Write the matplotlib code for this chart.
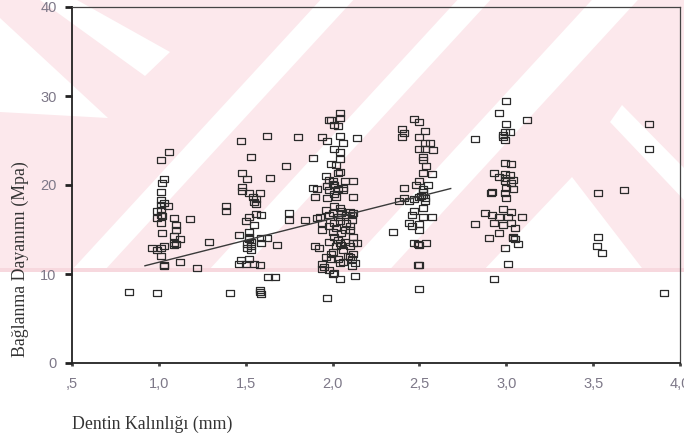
import matplotlib
matplotlib.use("Agg")
import matplotlib.pyplot as plt
import numpy as np

# measured points, grouped by thickness column (mm, MPa)
grp_10 = [(1.06, 23.7), (1.01, 22.8), (1.03, 20.7), (1.02, 20.2), (1.01, 19.2), (1.01, 18.3),
          (1.03, 18.0), (1.05, 17.6), (1.01, 17.7), (0.99, 17.1), (1.01, 17.2), (1.02, 16.5),
          (1.01, 16.6), (0.99, 16.3), (1.01, 15.7), (1.09, 16.3), (1.10, 15.5), (1.10, 15.0),
          (1.09, 14.3), (1.10, 13.4), (1.12, 13.9), (1.09, 13.5), (1.09, 13.3), (1.02, 14.6),
          (1.03, 13.1), (1.01, 12.9), (0.96, 12.9), (0.99, 12.7), (1.01, 12.0), (1.03, 11.0),
          (1.03, 10.9), (1.12, 11.3), (1.18, 16.2), (1.29, 13.6), (1.22, 10.7), (0.83, 8.0),
          (0.99, 7.9)]
grp_15 = [(1.47, 24.9), (1.53, 23.2), (1.48, 21.4), (1.51, 20.7), (1.48, 19.8), (1.48, 19.3),
          (1.52, 19.1), (1.54, 18.7), (1.56, 18.4), (1.58, 19.1), (1.55, 18.1), (1.56, 17.9),
          (1.385, 17.6), (1.385, 17.1), (1.56, 16.7), (1.59, 16.6), (1.50, 16.0), (1.52, 16.4),
          (1.55, 15.5), (1.52, 14.75), (1.46, 14.4), (1.52, 14.2), (1.52, 13.9), (1.53, 13.6),
          (1.51, 13.4), (1.53, 13.2), (1.51, 12.9), (1.53, 12.7), (1.59, 14.0), (1.62, 14.1),
          (1.59, 13.5), (1.68, 13.3), (1.47, 11.6), (1.46, 11.1), (1.52, 11.65), (1.55, 11.1),
          (1.58, 11.05), (1.50, 11.1), (1.63, 9.7), (1.67, 9.7), (1.41, 7.9), (1.58, 8.2),
          (1.59, 7.7), (1.58, 8.0), (1.62, 25.5), (1.80, 25.4), (1.73, 22.1), (1.64, 20.8),
          (1.885, 23.0), (1.75, 16.8), (1.75, 16.1), (1.84, 16.1), (1.89, 19.7), (1.91, 19.6),
          (1.90, 18.7)]
grp_20 = [(2.04, 28.05), (1.98, 27.3), (1.99, 27.3), (2.04, 27.5), (2.01, 26.7), (2.03, 26.6),
          (1.94, 25.4), (1.97, 24.9), (2.04, 25.5), (2.06, 24.7), (2.14, 25.3), (2.01, 24.0),
          (2.04, 23.7), (2.04, 22.9), (1.99, 22.4), (2.02, 22.2), (2.04, 21.5), (2.03, 21.4),
          (1.96, 21.0), (1.98, 20.6), (2.00, 20.4), (1.97, 19.9), (2.12, 20.4), (2.06, 19.7),
          (1.98, 19.4), (2.03, 19.5), (2.06, 19.4), (1.97, 18.5), (2.02, 18.7), (2.12, 18.7),
          (2.01, 17.6), (2.04, 17.4), (1.96, 17.2), (2.10, 17.0), (2.11, 16.6), (1.98, 16.6),
          (1.93, 16.4), (1.91, 16.3), (2.03, 16.4), (2.04, 16.0), (2.01, 15.7), (2.08, 15.7),
          (2.10, 15.4), (1.98, 15.4), (1.94, 15.7), (1.94, 14.9), (2.00, 14.75), (2.05, 14.6),
          (2.10, 14.9), (2.12, 14.2), (2.01, 14.2), (2.03, 13.8), (2.07, 13.6), (2.12, 13.5),
          (2.14, 13.45), (1.98, 13.6), (1.90, 13.1), (1.92, 12.9), (2.02, 13.1), (2.06, 12.7),
          (2.00, 12.5), (2.09, 12.0), (2.11, 11.65), (1.99, 11.65), (2.03, 11.65), (2.13, 11.2),
          (2.04, 11.2), (1.94, 11.1), (1.94, 10.6), (1.98, 10.4), (2.01, 10.15), (2.13, 9.8),
          (2.04, 9.4), (1.97, 7.3), (2.04, 13.5), (2.05, 13.3), (2.08, 16.6), (2.05, 16.9),
          (2.10, 13.2), (2.02, 15.2), (2.05, 17.1), (2.07, 15.0), (1.96, 11.9), (1.99, 12.2),
          (2.06, 11.3), (2.11, 10.9), (2.00, 16.9), (2.07, 20.4), (2.01, 19.0), (2.00, 20.1),
          (2.01, 20.0), (2.12, 16.8), (2.11, 16.1), (2.12, 12.3), (2.10, 11.9), (1.95, 10.8),
          (2.00, 10.0), (2.35, 14.75)]
grp_25 = [(2.47, 27.4), (2.50, 27.1), (2.40, 26.3), (2.41, 25.8), (2.40, 25.4), (2.53, 26.1),
          (2.50, 25.4), (2.53, 24.75), (2.56, 24.75), (2.50, 24.0), (2.53, 24.1), (2.58, 23.9),
          (2.52, 23.1), (2.52, 22.8), (2.54, 22.1), (2.52, 21.4), (2.57, 21.2), (2.50, 20.5),
          (2.55, 20.0), (2.48, 20.0), (2.41, 19.7), (2.52, 19.6), (2.52, 19.25), (2.52, 18.9),
          (2.50, 18.7), (2.53, 18.5), (2.53, 18.2), (2.41, 18.5), (2.38, 18.2), (2.44, 18.2),
          (2.47, 18.4), (2.52, 17.4), (2.47, 17.1), (2.46, 16.6), (2.52, 16.4), (2.57, 16.4),
          (2.44, 15.7), (2.46, 15.4), (2.50, 15.6), (2.50, 14.9), (2.47, 13.45), (2.50, 13.3),
          (2.54, 13.45), (2.50, 11.0), (2.50, 8.3), (2.49, 13.4), (2.51, 18.8), (2.49, 11.0)]
grp_30 = [(3.00, 29.4), (2.96, 28.1), (3.12, 27.3), (3.00, 26.9), (2.99, 26.0), (3.02, 26.0),
          (2.98, 25.6), (2.98, 25.4), (2.99, 25.1), (2.82, 25.2), (2.99, 22.5), (3.03, 22.4),
          (2.93, 21.4), (2.99, 21.2), (3.02, 21.1), (3.04, 20.6), (2.96, 20.9), (2.99, 20.4),
          (3.03, 20.2), (3.00, 19.7), (3.04, 19.5), (2.92, 19.25), (2.91, 19.1), (2.99, 19.1),
          (3.00, 18.5), (2.98, 17.3), (3.03, 17.0), (2.88, 16.9), (2.92, 16.6), (2.96, 16.4),
          (3.01, 16.4), (3.09, 16.4), (2.93, 15.7), (2.98, 15.5), (3.03, 15.7), (3.05, 15.2),
          (2.82, 15.6), (2.96, 14.6), (2.90, 14.1), (3.04, 14.2), (3.05, 13.9), (3.07, 13.4),
          (2.99, 12.9), (3.01, 11.1), (2.93, 9.4), (3.04, 14.0), (2.99, 20.8)]
grp_35 = [(3.53, 19.1), (3.68, 19.4), (3.53, 14.2), (3.52, 13.2), (3.55, 12.4),
          (3.82, 26.9), (3.82, 24.1), (3.91, 7.9)]

# fit line (as drawn in the original)
fit_slope = 4.93
fit_intercept = 6.39
fit_range = [0.92, 2.68]

x_ticks = [0.5, 1.0, 1.5, 2.0, 2.5, 3.0, 3.5, 4.0]
x_ticklabels = [",5", "1,0", "1,5", "2,0", "2,5", "3,0", "3,5", "4,0"]
y_ticks = [0, 10, 20, 30, 40]

W, H = 684, 438
fig = plt.figure(figsize=(W / 100, H / 100), dpi=100)
fig.patch.set_facecolor("white")

# background layer for the scanned page watermark (pixel coords, y down)
bg = fig.add_axes([0, 0, 1, 1], zorder=0)
bg.axis("off")

def px_fill(pts, color, z):
    xs = [p[0] for p in pts]
    ys = [p[1] for p in pts]
    bg.fill(xs, ys, color=color, linewidth=0, zorder=z)

band = 272
pink = "#fce8ec"
px_fill([(0, 0), (W, 0), (W, band), (0, band)], pink, 1)
# "/" strokes: centre x at y=52 and width
for c52, w in [(289, 33), (426, 33), (567, 46)]:
    top = c52 + 0.92 * 52
    bot = c52 - 0.92 * (band - 52)
    px_fill([(top - w / 2, 0), (top + w / 2, 0), (bot + w / 2, band), (bot - w / 2, band)],
            "white", 2)
# "\" strokes and chevron pieces
px_fill([(40, 0), (77, 0), (170, 52), (145, 76)], "white", 2)
px_fill([(0, 18), (108, 118), (0, 112)], "white", 2)
px_fill([(572, 177), (482, band), (645, band)], "white", 2)
px_fill([(622, 105), (684, 168), (684, 200), (610, 122)], "white", 2)
px_fill([(0, band - 4), (W, band - 4), (W, band), (0, band)], "#f7d8de", 3)
bg.set_xlim(0, W)
bg.set_ylim(H, 0)

ax = fig.add_axes([72 / W, 1 - 363 / H, 608 / W, 356 / H], zorder=1)
ax.set_facecolor("none")

rect = [(-1.2, -1), (1.2, -1), (1.2, 1), (-1.2, 1), (-1.2, -1)]
for grp in [grp_10, grp_15, grp_20, grp_25, grp_30, grp_35]:
    xs = [p[0] for p in grp]
    ys = [p[1] for p in grp]
    ax.plot(xs, ys, linestyle="none", marker=rect, markersize=6,
            markerfacecolor="none", markeredgecolor="#2b2b2b", markeredgewidth=0.9)

fx = np.array(fit_range)
ax.plot(fx, fit_slope * fx + fit_intercept, color="#3a3a3a", linewidth=1.0)

ax.set_xlim(0.5, 4.0)
ax.set_ylim(0, 40)
ax.set_xticks(x_ticks)
ax.set_xticklabels(x_ticklabels)
ax.set_yticks(y_ticks)

for s in ["left", "bottom"]:
    ax.spines[s].set_color("#222222")
    ax.spines[s].set_linewidth(1.3)
for s in ["top", "right"]:
    ax.spines[s].set_color("#444444")
    ax.spines[s].set_linewidth(0.9)

ax.tick_params(axis="y", direction="out", length=5, width=2, color="#222222",
               labelsize=10.5, labelcolor="#7d7888", pad=6)
ax.tick_params(axis="x", direction="out", length=2, width=2, color="#444444",
               labelsize=10.5, labelcolor="#7d7888", pad=8)
for lab in ax.get_xticklabels() + ax.get_yticklabels():
    lab.set_family("Liberation Sans")

fig.text(20 / W, 1 - 259 / H, "Bağlanma Dayanımı (Mpa)", rotation=90,
         ha="center", va="center", fontsize=12.8, family="Liberation Serif", color="#333333")
fig.text(72 / W, 1 - 424 / H, "Dentin Kalınlığı (mm)", ha="left", va="center",
         fontsize=12.8, family="Liberation Serif", color="#333333")

fig.savefig("out.png", dpi=100)
